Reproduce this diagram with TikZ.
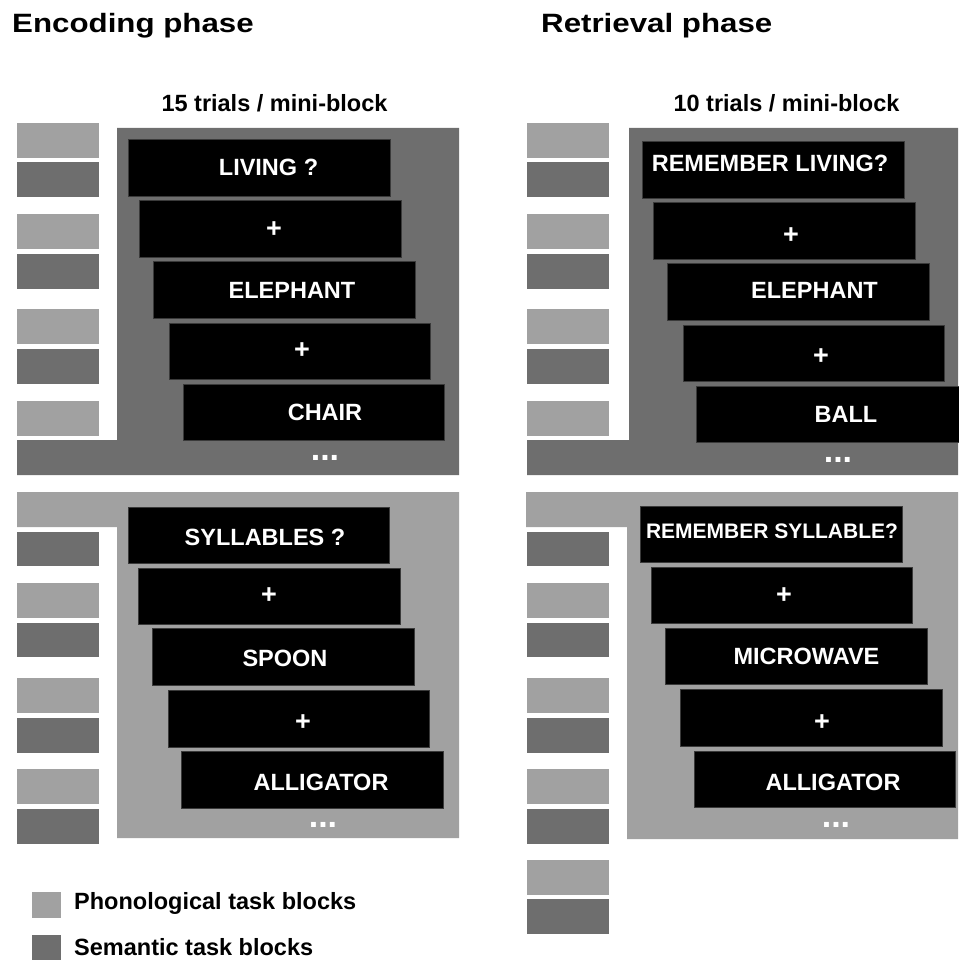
\documentclass[tikz,border=0pt]{standalone}
\usepackage{fontspec}
\usepackage{graphicx}
\setmainfont{Liberation Sans}
\definecolor{lightg}{HTML}{A1A1A1}
\definecolor{darkg}{HTML}{6E6E6E}
\definecolor{scrborder}{HTML}{3A3A3A}
\tikzset{
  phon/.style={fill=lightg},
  sem/.style={fill=darkg},
  scr/.style={fill=black, draw=scrborder, line width=0.8pt},
  wrd/.style={text=white, font=\bfseries\fontsize{23.5}{28}\selectfont, inner sep=0pt, text height=16.8pt, text depth=0pt, anchor=center},
  wrdsmall/.style={wrd, font=\bfseries\fontsize{21}{25}\selectfont, text height=15pt},
  plus/.style={wrd, font=\bfseries\fontsize{27}{30}\selectfont, text height=19.3pt},
  dotsl/.style={text=white, font=\bfseries\fontsize{34}{36}\selectfont, inner sep=0pt, anchor=base},
  ttl/.style={font=\bfseries\fontsize{26.5}{30}\selectfont, inner sep=0pt, anchor=base west},
  sub/.style={font=\bfseries\fontsize{23.5}{28}\selectfont, inner sep=0pt, anchor=base},
  leg/.style={font=\bfseries\fontsize{23.5}{28}\selectfont, inner sep=0pt, anchor=base west}
}
\begin{document}
\begin{tikzpicture}[x=1pt,y=-1pt]
\useasboundingbox (0,0) rectangle (958,960);
% titles
\node[ttl] (tenc) at (12,33) {\scalebox{1.18}[1]{Encoding phase}};
\node[ttl] (tret) at (541,33) {\scalebox{1.18}[1]{Retrieval phase}};
\node[sub] (s15) at (274.5,112) {15 trials / mini-block};
\node[sub] (s10) at (786.5,112) {10 trials / mini-block};

% frames
\fill[darkg] (117,128) -- (459,128) -- (459,475) -- (17,475) -- (17,440) -- (117,440) -- cycle;
\fill[lightg] (17,492) -- (459,492) -- (459,838) -- (117,838) -- (117,527) -- (17,527) -- cycle;
\fill[darkg] (629,128) -- (958,128) -- (958,475) -- (527,475) -- (527,440) -- (629,440) -- cycle;
\fill[lightg] (526,492) -- (958,492) -- (958,839) -- (627,839) -- (627,527) -- (526,527) -- cycle;

% side blocks
\foreach \xa/\xb in {17/99, 527/609} {
  \foreach \ya/\yb/\s in {123/158/phon, 162/197/sem, 214/249/phon, 254/289/sem, 309/344/phon, 349/384/sem, 401/436/phon,
                          532/566/sem, 583/618/phon, 623/657/sem, 678/713/phon, 718/753/sem, 769/804/phon, 809/844/sem}
    \fill[\s] (\xa,\ya) rectangle (\xb,\yb);
}
\fill[phon] (527,860) rectangle (609,895);
\fill[sem] (527,899) rectangle (609,934);

% screens
\foreach \xa/\ya/\xb/\yb in {128/139/390/196, 139/200/401/257, 153/261/415/318, 169/323/430/379, 183/384/444/440,
                            128/507/389/563, 138/568/400/624, 152/628/414/685, 168/690/429/747, 181/751/443/808,
                            642/141/904/198, 653/202/915/259, 667/263/929/320, 683/325/944/381, 696/386/959/442,
                            640/506/902/562, 651/567/912/623, 665/628/927/684, 680/689/942/746, 694/751/955/807}
  \draw[scr] (\xa,\ya) rectangle (\xb,\yb);

% texts, encoding
\node[wrd] (a1) at (268.5,167) {LIVING ?};
\node[plus] (a2) at (274,228) {+};
\node[wrd] (a3) at (292,290.5) {ELEPHANT};
\node[plus] (a4) at (302,349) {+};
\node[wrd] (a5) at (325,412) {CHAIR};
\node[dotsl] (a6) at (325,460) {...};

\node[wrd] (b1) at (265,537) {SYLLABLES ?};
\node[plus] (b2) at (269,594) {+};
\node[wrd] (b3) at (285,658) {SPOON};
\node[plus] (b4) at (303,721) {+};
\node[wrd] (b5) at (321,782) {ALLIGATOR};
\node[dotsl] (b6) at (323,827) {...};

% texts, retrieval
\node[wrd] (c1) at (770,163) {REMEMBER LIVING?};
\node[plus] (c2) at (791,234) {+};
\node[wrd] (c3) at (814.5,290) {ELEPHANT};
\node[plus] (c4) at (821,355) {+};
\node[wrd] (c5) at (846,414) {BALL};
\node[dotsl] (c6) at (838,462) {...};

\node[wrdsmall] (d1) at (772,531) {REMEMBER SYLLABLE?};
\node[plus] (d2) at (784,594) {+};
\node[wrd] (d3) at (806.5,656) {MICROWAVE};
\node[plus] (d4) at (822,721) {+};
\node[wrd] (d5) at (833,782) {ALLIGATOR};
\node[dotsl] (d6) at (836,827) {...};

% legend
\fill[phon] (32,892) rectangle (61,918);
\fill[sem] (32,935) rectangle (61,960);
\node[leg] (lp) at (74,909) {Phonological task blocks};
\node[leg] (ls) at (74,955) {Semantic task blocks};
\end{tikzpicture}
\end{document}
